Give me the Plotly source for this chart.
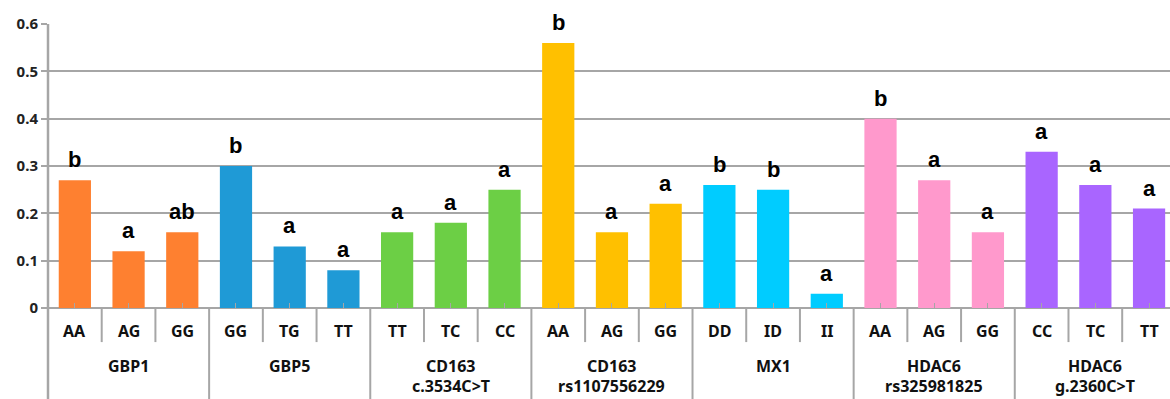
import plotly.graph_objects as go

# Genotype groups and their mean values
groups = [["GBP1"], ["GBP5"], ["CD163", "c.3534C>T"], ["CD163", "rs1107556229"], ["MX1"],
          ["HDAC6", "rs325981825"], ["HDAC6", "g.2360C>T"]]
genotypes = [["AA", "AG", "GG"], ["GG", "TG", "TT"], ["TT", "TC", "CC"],
             ["AA", "AG", "GG"], ["DD", "ID", "II"], ["AA", "AG", "GG"],
             ["CC", "TC", "TT"]]
values = [[0.27, 0.12, 0.16], [0.30, 0.13, 0.08], [0.16, 0.18, 0.25],
          [0.56, 0.16, 0.22], [0.26, 0.25, 0.03], [0.40, 0.27, 0.16],
          [0.33, 0.26, 0.21]]
letters = [["b", "a", "ab"], ["b", "a", "a"], ["a", "a", "a"], ["b", "a", "a"],
           ["b", "b", "a"], ["b", "a", "a"], ["a", "a", "a"]]
colors = ["#FE8030", "#1F9AD6", "#6CCF45", "#FFC000", "#00CCFF", "#FF99CC", "#A965FF"]

GRID = "#A6A6A6"
FAMILY = "Noto Sans, Open Sans, sans-serif"
LABEL_FONT = dict(family=FAMILY, size=16, color="#111111", weight="bold")

fig = go.Figure()
annotations = []
shapes = []

group_line_y = [-0.2025, -0.273]

pos = 0
for gi, grp in enumerate(groups):
    xs = [pos + k for k in range(len(genotypes[gi]))]
    fig.add_trace(go.Bar(
        x=xs, y=values[gi], width=0.6,
        marker=dict(color=colors[gi], line=dict(width=0)),
        showlegend=False, hoverinfo="y",
    ))
    for k, x in enumerate(xs):
        # significance letter above each bar
        annotations.append(dict(
            x=x, y=values[gi][k], xref="x", yref="y", text=letters[gi][k],
            showarrow=False, yanchor="bottom", yshift=6,
            font=dict(family="Liberation Sans, Arial, sans-serif", size=22,
                      color="#000000", weight="bold"),
        ))
        # genotype label under the axis
        annotations.append(dict(
            x=x, y=-0.081, xref="x", yref="paper", text=genotypes[gi][k],
            showarrow=False, yanchor="middle", font=LABEL_FONT,
        ))
        # short separator between genotypes
        if k > 0:
            shapes.append(dict(type="line", xref="x", yref="paper",
                               x0=x - 0.5, x1=x - 0.5, y0=0, y1=-0.12,
                               line=dict(color=GRID, width=2)))
    # group label, one annotation per line
    for li, line_text in enumerate(grp):
        annotations.append(dict(
            x=pos + 1, y=group_line_y[li], xref="x", yref="paper", text=line_text,
            showarrow=False, yanchor="middle", font=LABEL_FONT,
        ))
    # long separator between groups
    if gi > 0:
        shapes.append(dict(type="line", xref="x", yref="paper",
                           x0=pos - 0.5, x1=pos - 0.5, y0=0, y1=-0.33,
                           line=dict(color=GRID, width=2)))
    pos += len(genotypes[gi])

# left axis line extending below the plot
shapes.append(dict(type="line", xref="paper", yref="paper", x0=0, x1=0, y0=1, y1=-0.33,
                   line=dict(color=GRID, width=2.5)))

n = pos
fig.update_layout(
    width=1170, height=399,
    margin=dict(l=48, r=0, t=24, b=91),
    plot_bgcolor="white", paper_bgcolor="white",
    bargap=0.4,
    annotations=annotations, shapes=shapes,
    # the last category runs slightly past the right edge of the frame
    xaxis=dict(range=[-0.5, n - 0.61], showgrid=False, zeroline=False,
               tickvals=list(range(n)), ticktext=[""] * n,
               ticks="inside", ticklen=5, tickcolor=GRID, tickwidth=1,
               showline=False, fixedrange=True),
    yaxis=dict(range=[0, 0.6], showgrid=True, gridcolor=GRID, gridwidth=2,
               zeroline=True, zerolinecolor=GRID, zerolinewidth=2,
               tickvals=[0, 0.1, 0.2, 0.3, 0.4, 0.5, 0.6],
               ticktext=["0", "0.1", "0.2", "0.3", "0.4", "0.5", "0.6"],
               ticks="outside", ticklen=6, tickcolor=GRID, tickwidth=2,
               tickfont=dict(family=FAMILY, size=15, color="#222222", weight="bold"),
               showline=False, fixedrange=True),
)

fig.write_html("out.html")
